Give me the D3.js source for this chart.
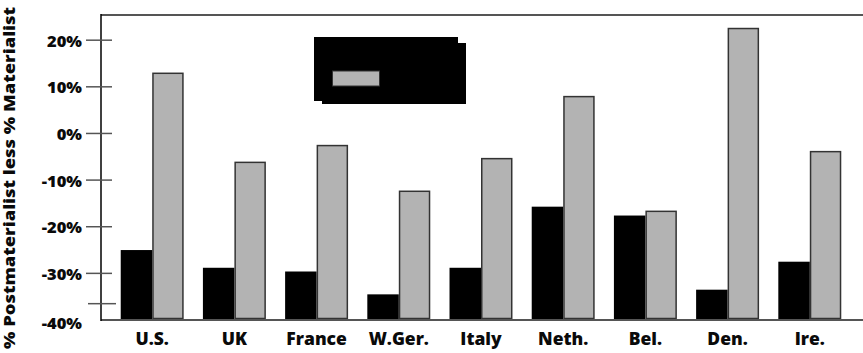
<!DOCTYPE html>
<html>
<head>
<meta charset="utf-8">
<script src="https://cdn.jsdelivr.net/npm/d3@7"></script>
<style>
  html, body { margin: 0; padding: 0; background: #fff; }
  svg { display: block; }
  text { font-family: "Open Sans", "Lato", sans-serif; font-weight: 800; fill: #0a0a0a; }
</style>
</head>
<body>
<svg id="chart" width="863" height="353"></svg>
<script>
// ---- data ----
const categories = ["U.S.", "UK", "France", "W.Ger.", "Italy", "Neth.", "Bel.", "Den.", "Ire."];
const seriesKeys = ["first", "second"];
const firstValues  = [-25.0, -28.8, -29.6, -34.5, -28.8, -15.7, -17.6, -33.5, -27.5];
const secondValues = [12.9, -6.2, -2.6, -12.4, -5.4, 7.9, -16.7, 22.5, -3.9];
const tickValues = [20, 10, 0, -10, -20, -30, -40];
const tickLabels = ["20%", "10%", "0%", "-10%", "-20%", "-30%", "-40%"];
const extraTickValues = [-36.5];
const yTitle = "% Postmaterialist less % Materialist";

// ---- layout ----
const svg = d3.select("#chart");
const W = 863;
const axisX = 101, topY = 15, bottomY = 320;

const y = d3.scaleLinear().domain([-40, 25.4]).range([bottomY, topY]);
const x = d3.scaleBand().domain(categories).range([111.1, 850.9])
  .paddingInner(0.234).paddingOuter(0.117);
const xs = d3.scaleBand().domain(seriesKeys).range([0, x.bandwidth()]);

const colors = { first: "#000", second: "#b3b3b3" };

// bars
const rows = categories.map((c, i) => ({ c, first: firstValues[i], second: secondValues[i] }));
const g = svg.append("g");
rows.forEach(r => {
  g.append("rect")
    .attr("x", x(r.c) + xs("first"))
    .attr("y", y(r.first))
    .attr("width", xs.bandwidth())
    .attr("height", y(-40) - y(r.first))
    .attr("fill", colors.first);
  g.append("rect")
    .attr("x", x(r.c) + xs("second") + 0.75)
    .attr("y", y(r.second))
    .attr("width", xs.bandwidth() - 1.5)
    .attr("height", y(-40) - y(r.second) - 1.5)
    .attr("fill", colors.second)
    .attr("stroke", "#333")
    .attr("stroke-width", 1.5);
});

// frame lines
svg.append("line").attr("x1", axisX).attr("x2", W).attr("y1", topY).attr("y2", topY)
  .attr("stroke", "#555").attr("stroke-width", 2);
svg.append("line").attr("x1", axisX).attr("x2", W).attr("y1", bottomY).attr("y2", bottomY)
  .attr("stroke", "#555").attr("stroke-width", 2);
svg.append("line").attr("x1", axisX).attr("x2", axisX).attr("y1", topY - 1).attr("y2", bottomY + 1)
  .attr("stroke", "#000").attr("stroke-width", 1.5);

// ticks
tickValues.filter(v => v !== -40).forEach(v => {
  svg.append("line").attr("x1", 86).attr("x2", 112).attr("y1", y(v)).attr("y2", y(v))
    .attr("stroke", "#555").attr("stroke-width", 1.5);
});
extraTickValues.forEach(v => {
  svg.append("line").attr("x1", 88).attr("x2", 116).attr("y1", y(v)).attr("y2", y(v))
    .attr("stroke", "#555").attr("stroke-width", 1.5);
});
tickValues.forEach((v, i) => {
  svg.append("text").attr("x", 82).attr("y", y(v) + (v === -40 ? 2 : 0))
    .attr("text-anchor", "end").attr("dominant-baseline", "central")
    .style("font-size", "16.5px").text(tickLabels[i]);
});

// x labels
categories.forEach(c => {
  svg.append("text").attr("x", x(c) + x.bandwidth() / 2).attr("y", 345)
    .attr("text-anchor", "middle").style("font-size", "17.5px").text(c);
});

// y title
svg.append("text")
  .attr("transform", "translate(14.5," + 178 + ") rotate(-90)")
  .attr("text-anchor", "middle")
  .attr("textLength", 342)
  .attr("lengthAdjust", "spacingAndGlyphs")
  .style("font-size", "15px").text(yTitle);

// legend (text is not visible in the reference: black box with a grey swatch)
const lg = svg.append("g");
lg.append("rect").attr("x", 322).attr("y", 43).attr("width", 144).attr("height", 61).attr("fill", "#000");
lg.append("rect").attr("x", 314).attr("y", 37).attr("width", 144).attr("height", 64).attr("fill", "#000");
lg.append("rect").attr("x", 332.5).attr("y", 71).attr("width", 47).attr("height", 15)
  .attr("fill", colors.second).attr("stroke", "#333").attr("stroke-width", 1);
</script>
</body>
</html>
